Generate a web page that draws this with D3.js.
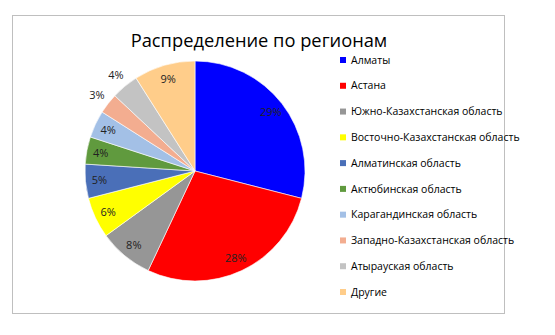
<!DOCTYPE html>
<html>
<head>
<meta charset="utf-8">
<script src="https://cdn.jsdelivr.net/npm/d3@7"></script>
<style>
  html, body { margin: 0; padding: 0; background: #fff; }
  svg { display: block; font-family: "Open Sans", "Liberation Sans", sans-serif; }
</style>
</head>
<body>
<svg id="chart" width="555" height="335"></svg>
<script>
// Доли регионов, %
const regions = [
  "Алматы",
  "Астана",
  "Южно-Казахстанская область",
  "Восточно-Казахстанская область",
  "Алматинская область",
  "Актюбинская область",
  "Карагандинская область",
  "Западно-Казахстанская область",
  "Атырауская область",
  "Другие"
];
const shares = [29, 28, 8, 6, 5, 4, 4, 3, 4, 9];
const colors = [
  "#0000ff", "#ff0000", "#969696", "#ffff00", "#4a6fb8",
  "#609a3e", "#a3c0e6", "#f3ad90", "#c3c3c3", "#ffcd8a"
];
// Small slices whose labels sit outside the pie
const outsideLabels = ["Западно-Казахстанская область", "Атырауская область"];

const svg = d3.select("#chart");

// Chart frame
svg.append("rect")
  .attr("x", 12.5).attr("y", 15.5)
  .attr("width", 492).attr("height", 298)
  .attr("fill", "#fff")
  .attr("stroke", "#bfbfbf")
  .attr("stroke-width", 1);

// Title
svg.append("text")
  .attr("x", 259).attr("y", 47)
  .attr("text-anchor", "middle")
  .attr("font-size", 18.3)
  .attr("fill", "#000")
  .text("Распределение по регионам");

const cx = 195, cy = 171, r = 110;
const g = svg.append("g").attr("transform", `translate(${cx},${cy})`);

const data = regions.map((name, i) => ({ name, value: shares[i], color: colors[i] }));
const pie = d3.pie().sort(null).value(d => d.value);
const arcs = pie(data);
const arc = d3.arc().innerRadius(0).outerRadius(r);
const inLabel = d3.arc().innerRadius(96).outerRadius(96);
const outLabel = d3.arc().innerRadius(124).outerRadius(124);

g.selectAll("path.slice")
  .data(arcs)
  .join("path")
  .attr("class", "slice")
  .attr("d", arc)
  .attr("fill", d => d.data.color)
  .attr("stroke", "#fff")
  .attr("stroke-width", 0.6);

g.selectAll("text.pct")
  .data(arcs)
  .join("text")
  .attr("class", "pct")
  .attr("transform", d => {
    const a = outsideLabels.includes(d.data.name) ? outLabel : inLabel;
    const [x, y] = a.centroid(d);
    return `translate(${x},${y})`;
  })
  .attr("text-anchor", "middle")
  .attr("dy", "0.35em")
  .attr("font-size", 11)
  .attr("fill", "#222")
  .text(d => d.data.value + "%");

// Legend
const legendY = d3.scalePoint().domain(regions).range([60, 292]);
const legend = svg.append("g");
const item = legend.selectAll("g.item")
  .data(data)
  .join("g")
  .attr("class", "item")
  .attr("transform", d => `translate(340,${legendY(d.name)})`);
item.append("rect")
  .attr("x", 0).attr("y", -3)
  .attr("width", 6).attr("height", 6)
  .attr("fill", d => d.color);
item.append("text")
  .attr("x", 11).attr("dy", "0.35em")
  .attr("font-size", 10.5)
  .attr("fill", "#000")
  .text(d => d.name);
</script>
</body>
</html>
